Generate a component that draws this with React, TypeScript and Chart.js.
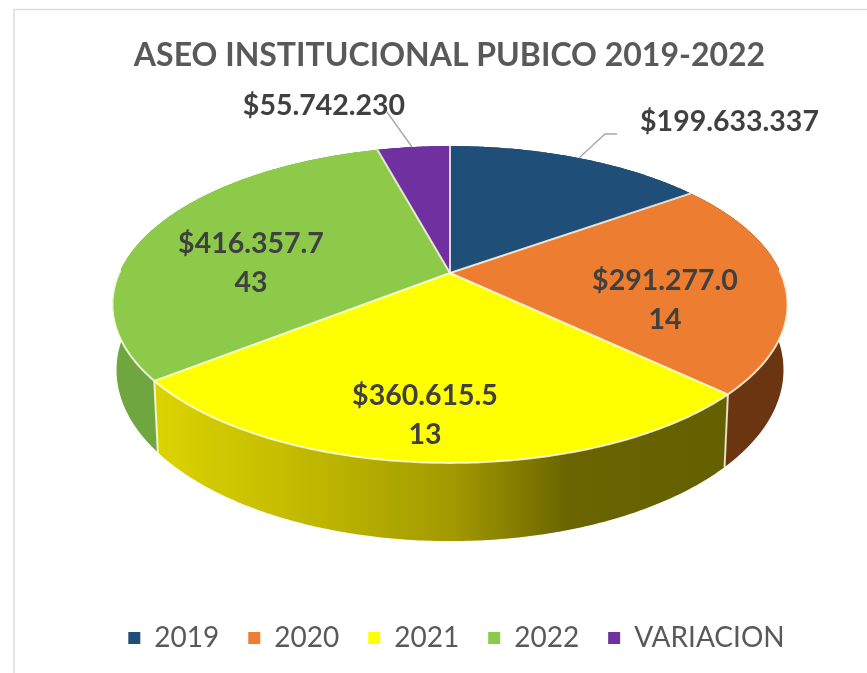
import React, { useEffect, useRef } from "react";
import { Chart, registerables } from "chart.js";

Chart.register(...registerables);

const chartTitle = "ASEO INSTITUCIONAL PUBICO 2019-2022";
const categories = ["2019", "2020", "2021", "2022", "VARIACION"];
const values = [199633337, 291277014, 360615513, 416357743, 55742230];
const sliceColors = ["#1f4e79", "#ed7d31", "#ffff00", "#8dca4a", "#7030a0"];
const sideColors = ["#163757", "#6b3512", "#8f8a00", "#6fa63f", "#4e2270"];

const yellowSideStops: [number, string][] = [
  [0, "#dcd400"],
  [0.3, "#bdb500"],
  [0.52, "#a29a00"],
  [0.62, "#878000"],
  [0.72, "#6a6500"],
  [1, "#656000"],
];

// Projection of the flat pie to the tilted disc
const view = { cx: 450, cy: 273, flatten: 0.46, persp: 0.1987, bottomX: 0.988, bottomY: 1.08, drop: 63 };
const labelPlaces = [
  { x: 729.5, y: 122, wrap: 0 },
  { x: 665, y: 281, wrap: 10 },
  { x: 425, y: 396, wrap: 10 },
  { x: 251, y: 244, wrap: 10 },
  { x: 324, y: 106, wrap: 0 },
];
const leaders: [number, number][][] = [
  [[617, 134], [605, 134], [579, 158]],
  [],
  [],
  [],
  [[387, 112], [412, 147]],
];

const LABEL_GAP = 38.5;

function money(v: number) {
  return "$" + String(v).replace(/\B(?=(\d{3})+$)/g, ".");
}

function project(alpha: number, R: number, r = 1, bottom = false) {
  const u = r * Math.cos(alpha);
  const v = r * Math.sin(alpha);
  const w = 1 - view.persp * v;
  const sx = bottom ? view.bottomX : 1;
  const sy = bottom ? view.bottomY : 1;
  return {
    x: view.cx + (sx * R * u) / w,
    y: view.cy + (sy * R * view.flatten * v) / w + (bottom ? view.drop : 0),
  };
}

function rimPoints(a0: number, a1: number, R: number, bottom: boolean) {
  const n = Math.max(2, Math.ceil(Math.abs(a1 - a0) / 0.01));
  const pts = [];
  for (let i = 0; i <= n; i++) pts.push(project(a0 + ((a1 - a0) * i) / n, R, 1, bottom));
  return pts;
}

const tiltedPie = {
  id: "tiltedPie",
  beforeDraw(chart: any) {
    const { ctx } = chart;
    ctx.save();
    ctx.strokeStyle = "#dcdcdc";
    ctx.lineWidth = 1.5;
    ctx.beginPath();
    ctx.moveTo(14, 673);
    ctx.lineTo(14, 9.5);
    ctx.lineTo(867, 9.5);
    ctx.stroke();
    ctx.restore();
  },
  afterLayout(chart: any) {
    chart.titleBlock.left -= 14;
  },
  beforeDatasetDraw() {
    return false;
  },
  beforeDatasetsDraw(chart: any) {
    const { ctx } = chart;
    const arcs = chart.getDatasetMeta(0).data;
    ctx.save();
    ctx.lineJoin = "round";

    // side walls
    [3, 1, 2, 0, 4].forEach((i) => {
      const arc = arcs[i];
      const R = arc.outerRadius;
      const top = rimPoints(arc.startAngle, arc.endAngle, R, false);
      const low = rimPoints(arc.startAngle, arc.endAngle, R, true).reverse();
      ctx.beginPath();
      [...top, ...low].forEach((p, k) => (k ? ctx.lineTo(p.x, p.y) : ctx.moveTo(p.x, p.y)));
      ctx.closePath();
      if (i === 2) {
        const g = ctx.createLinearGradient(top[top.length - 1].x, 0, top[0].x, 0);
        yellowSideStops.forEach(([o, c]) => g.addColorStop(o, c));
        ctx.fillStyle = g;
      } else {
        ctx.fillStyle = sideColors[i];
      }
      ctx.fill();
    });

    // top faces
    arcs.forEach((arc: any, i: number) => {
      const R = arc.outerRadius;
      const centre = project(0, R, 0);
      ctx.beginPath();
      ctx.moveTo(centre.x, centre.y);
      rimPoints(arc.startAngle, arc.endAngle, R, false).forEach((p) => ctx.lineTo(p.x, p.y));
      ctx.closePath();
      ctx.fillStyle = sliceColors[i];
      ctx.fill();
    });

    // edges
    ctx.lineWidth = 2;
    ctx.strokeStyle = "rgba(255,255,240,0.8)";
    arcs.forEach((arc: any) => {
      const R = arc.outerRadius;
      const centre = project(0, R, 0);
      const p = project(arc.startAngle, R);
      ctx.beginPath();
      ctx.moveTo(centre.x, centre.y);
      ctx.lineTo(p.x, p.y);
      ctx.stroke();
      if (Math.sin(arc.startAngle) > 0.3) {
        const q = project(arc.startAngle, R, 1, true);
        ctx.beginPath();
        ctx.moveTo(p.x, p.y);
        ctx.lineTo(q.x, q.y);
        ctx.stroke();
      }
    });
    const R0 = arcs[0].outerRadius;
    ctx.beginPath();
    rimPoints(-0.02, Math.PI + 0.02, R0, false).forEach((p, k) => (k ? ctx.lineTo(p.x, p.y) : ctx.moveTo(p.x, p.y)));
    ctx.stroke();
    ctx.restore();
  },
  afterDatasetsDraw(chart: any) {
    const { ctx } = chart;
    ctx.save();
    ctx.strokeStyle = "#a6a6a6";
    ctx.lineWidth = 1.3;
    leaders.forEach((line) => {
      if (!line.length) return;
      ctx.beginPath();
      line.forEach(([x, y], k) => (k ? ctx.lineTo(x, y) : ctx.moveTo(x, y)));
      ctx.stroke();
    });
    ctx.fillStyle = "#404040";
    ctx.font = "bold 28.5px Lato";
    ctx.textAlign = "center";
    ctx.textBaseline = "middle";
    values.forEach((v, i) => {
      const text = money(v);
      const place = labelPlaces[i];
      if (place.wrap) {
        ctx.fillText(text.slice(0, place.wrap), place.x, place.y);
        ctx.fillText(text.slice(place.wrap), place.x, place.y + LABEL_GAP);
      } else {
        ctx.fillText(text, place.x, place.y);
      }
    });
    ctx.restore();
  },
};

export default function App() {
  const ref = useRef<HTMLCanvasElement>(null);
  useEffect(() => {
    const chart = new Chart(ref.current!, {
      type: "pie",
      data: {
        labels: categories,
        datasets: [{ data: values, backgroundColor: sliceColors, borderWidth: 0, radius: 330.8 }],
      },
      plugins: [tiltedPie],
      options: {
        responsive: false,
        animation: false,
        devicePixelRatio: 1,
        layout: { padding: { left: 46, right: 0, top: 0, bottom: 11 } },
        plugins: {
          tooltip: { enabled: false },
          title: {
            display: true,
            text: chartTitle,
            color: "#595959",
            font: { family: "Lato", size: 32, weight: "bold" },
            padding: { top: 36, bottom: 10 },
          },
          legend: {
            position: "bottom",
            labels: {
              color: "#595959",
              font: { family: "Lato", size: 28 },
              boxWidth: 12,
              boxHeight: 12,
              padding: 29,
            },
          },
        },
      },
    } as any);
    return () => chart.destroy();
  }, []);
  return (
    <canvas
      ref={ref}
      width={867}
      height={673}
      style={{ position: "absolute", left: 0, top: 0, display: "block" }}
    />
  );
}
